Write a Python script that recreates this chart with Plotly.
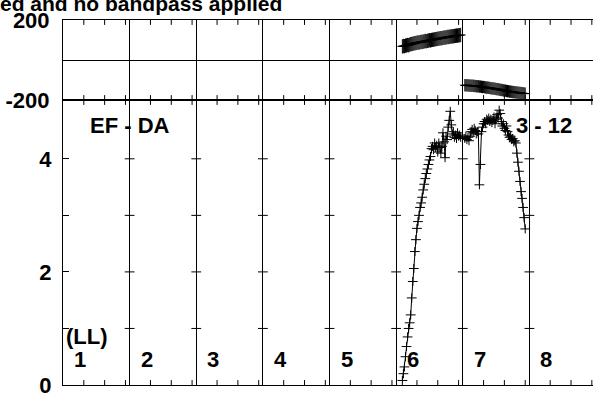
import plotly.graph_objects as go

# channel layout: 8 IFs of 64 channels each, one panel per IF
N_IF = 8
N_CHAN = 64
if_labels = ["1", "2", "3", "4", "5", "6", "7", "8"]
minor_chan = [20, 40, 60]
amp_ticks = [0, 2, 4]
amp_minor = [1, 3]
amp_top = 5.04
phase_ticks = [-200, 200]
phase_ticktext = ["-200", "200"]

# IF 6
if6_chan = list(range(6, 63))
if6_amp = [
    0.08, 0.20, 0.32, 0.50, 0.68, 0.85, 1.00, 1.10, 1.24, 1.54,
    1.83, 2.06, 2.36, 2.57, 2.77, 2.89, 3.00, 3.14, 3.22, 3.32,
    3.45, 3.55, 3.65, 3.74, 3.82, 3.90, 3.98, 4.04, 4.18, 4.22,
    4.16, 4.28, 4.20, 4.24, 4.12, 4.28, 4.20, 4.10, 4.22, 4.46,
    4.30, 4.02, 4.40, 4.34, 4.56, 4.68, 4.84, 4.60, 4.44, 4.48,
    4.38, 4.42, 4.36, 4.46, 4.40, 4.42, 4.38,
]
if6_phase = [
    68, 70, 69, 72, 73, 75, 74, 77, 79, 80,
    81, 83, 84, 85, 86, 88, 87, 89, 91, 90,
    92, 93, 95, 94, 96, 97, 99, 98, 100, 101,
    102, 103, 104, 105, 106, 107, 108, 109, 109, 111,
    112, 112, 113, 115, 115, 116, 117, 118, 118, 119,
    120, 121, 122, 122, 123, 124, 125,
]

# IF 7
if7_chan = list(range(2, 61))
if7_amp = [
    4.36, 4.40, 4.34, 4.38, 4.32, 4.40, 4.48, 4.52, 4.46, 4.54,
    4.50, 4.44, 4.48, 4.44, 3.54, 3.90, 4.48, 4.56, 4.62, 4.66,
    4.62, 4.70, 4.68, 4.72, 4.66, 4.70, 4.64, 4.68, 4.74, 4.62,
    4.70, 4.78, 4.72, 4.86, 4.80, 4.66, 4.58, 4.62, 4.54, 4.50,
    4.58, 4.48, 4.42, 4.38, 4.40, 4.34, 4.36, 4.30, 4.32, 4.28,
    4.10, 3.94, 3.78, 3.60, 3.42, 3.30, 3.14, 2.96, 2.76,
]
if7_phase = [
    -126, -127, -126, -128, -127, -128, -129, -128, -129, -130,
    -130, -131, -132, -131, -133, -133, -134, -135, -135, -136,
    -137, -138, -138, -139, -140, -141, -142, -142, -143, -144,
    -145, -146, -146, -148, -149, -150, -150, -152, -153, -153,
    -155, -156, -156, -158, -158, -159, -160, -161, -161, -162,
    -163, -163, -164, -165, -165, -166, -167, -168, -168,
]

W, H = 593, 397
L, R, T, B = 63, 0, 20, 12
PW, PH = W - L - R, H - T - B
SPLIT = 285 / PH  # amplitude panel share of the height
X_MAX = N_IF * N_CHAN * PW / 533.0  # last panel runs past the window

FONT = "Liberation Sans"
INK = "black"


def px(x):
    return (x - L) / PW


def py(y):
    return (H - B - y) / PH


def gx(if_no, chans):
    return [(if_no - 1) * N_CHAN + c for c in chans]


bounds = [k * N_CHAN for k in range(1, N_IF)]
minors = [k * N_CHAN + m for k in range(N_IF) for m in minor_chan]

cross = dict(symbol="line-ew-open", size=7, color=INK, line=dict(width=1, color=INK))

fig = go.Figure()
for if_no, ch, amp in [(6, if6_chan, if6_amp), (7, if7_chan, if7_amp)]:
    fig.add_trace(
        go.Scatter(
            x=gx(if_no, ch), y=amp, mode="lines+markers",
            line=dict(color=INK, width=1), marker=cross,
            error_y=dict(type="constant", value=0.08, color=INK, thickness=1, width=0),
            xaxis="x", yaxis="y", hoverinfo="skip",
        )
    )
for if_no, ch, ph, err in [(6, if6_chan, if6_phase, 36), (7, if7_chan, if7_phase, 31)]:
    fig.add_trace(
        go.Scatter(
            x=gx(if_no, ch), y=ph, mode="lines+markers",
            line=dict(color=INK, width=1), marker=cross,
            error_y=dict(type="constant", value=err, color=INK, thickness=1, width=0),
            xaxis="x2", yaxis="y2", hoverinfo="skip",
        )
    )

# amplitude ticks crossing every IF boundary
cross_vals = amp_minor + amp_ticks[1:]
fig.add_trace(
    go.Scatter(
        x=[b for b in bounds for _ in cross_vals],
        y=[v for _ in bounds for v in cross_vals],
        mode="markers",
        marker=dict(symbol="line-ew-open", size=7, color=INK, line=dict(width=1, color=INK)),
        xaxis="x", yaxis="y", hoverinfo="skip",
    )
)

# channel ticks on the top and bottom edge of both panels (half clipped -> inward)
tick_mark = dict(symbol="line-ns-open", size=7, color=INK, line=dict(width=1, color=INK))
for xa, ya, edges in [("x", "y", [0, amp_top]), ("x2", "y2", phase_ticks)]:
    fig.add_trace(
        go.Scatter(
            x=[m for e in edges for m in minors],
            y=[e for e in edges for _ in minors],
            mode="markers", marker=tick_mark, cliponaxis=True,
            xaxis=xa, yaxis=ya, hoverinfo="skip",
        )
    )

xcommon = dict(
    range=[0, X_MAX], tickmode="array", tickvals=bounds, ticks="",
    showticklabels=False, showgrid=True, gridcolor=INK, gridwidth=1,
    showline=True, linecolor=INK, linewidth=1, mirror=True, zeroline=False,
    automargin=False,
)
tickfont = dict(family=FONT, size=22, color=INK, weight="bold")

fig.update_layout(
    width=W, height=H, margin=dict(l=L, r=R, t=T, b=B, autoexpand=False),
    paper_bgcolor="white", plot_bgcolor="white", showlegend=False,
    xaxis=dict(xcommon, domain=[0, 1], anchor="y"),
    xaxis2=dict(xcommon, domain=[0, 1], anchor="y2", matches="x"),
    yaxis=dict(
        domain=[0, SPLIT], range=[0, amp_top], tickmode="array", tickvals=amp_ticks,
        ticks="inside", ticklen=6, tickcolor=INK, tickfont=tickfont,
        ticklabelstandoff=6, ticklabeloverflow="allow",
        showline=True, linecolor=INK, linewidth=1,
        showgrid=False, zeroline=False, automargin=False,
        minor=dict(tickmode="array", tickvals=amp_minor, ticks="inside", ticklen=6,
                   tickcolor=INK, showgrid=False),
    ),
    yaxis2=dict(
        domain=[SPLIT, 1], range=[-200, 200], tickmode="array", tickvals=phase_ticks,
        ticktext=phase_ticktext, ticks="", tickfont=tickfont, ticklabelstandoff=8,
        ticklabeloverflow="allow",
        showline=True, linecolor=INK, linewidth=1, showgrid=False,
        zeroline=True, zerolinecolor=INK, zerolinewidth=1, automargin=False,
    ),
)

txt = dict(family=FONT, size=22, color=INK, weight="bold")
notes = [
    dict(text="ed and no bandpass applied", x=px(284), y=py(3), xanchor="right",
         font=dict(txt, size=21)),
    dict(text="EF - DA", x=px(129.5), y=py(125), xanchor="center"),
    dict(text="3 - 12", x=px(574), y=py(125), xanchor="right"),
    dict(text="(LL)", x=px(64), y=py(336), xanchor="left"),
]
for k, lab in enumerate(if_labels):
    notes.append(dict(text=lab, x=px(L + k * 533.0 / N_IF + 9), y=py(359), xanchor="left"))
for n in notes:
    n.setdefault("font", txt)
    fig.add_annotation(n, xref="paper", yref="paper", yanchor="middle", showarrow=False)

# page body has an 8px default margin; drop it so the figure sits at the window corner
fig.write_html(
    "out.html",
    config={"displayModeBar": False},
    post_script="document.body.style.margin='0';",
)
